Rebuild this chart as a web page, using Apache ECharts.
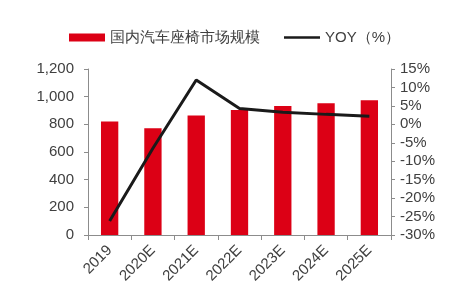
<!DOCTYPE html>
<html><head><meta charset="utf-8">
<script src="https://cdn.jsdelivr.net/npm/echarts@6/dist/echarts.min.js"></script>
<style>html,body{margin:0;padding:0;background:#fff}#c{width:475px;height:301px}</style>
</head><body><div id="c"></div>
<script>
const categories = ['2019','2020E','2021E','2022E','2023E','2024E','2025E'];
const marketSize = [820, 772, 863, 904, 933, 952, 974];
const yoy = [-26.2, -6.5, 12.0, 4.3, 3.3, 2.7, 2.2];
const leftTicks = [0, 200, 1200];
const rightTicks = [-30, 15];

const chart = echarts.init(document.getElementById('c'), null, {renderer:'canvas'});
const axisGray = '#8c8c8c';
const txt = '#404040';
const font = 'Liberation Sans, Arial, sans-serif';
chart.setOption({
  animation:false,
  backgroundColor:'#fff',
  legend:{
    top:25, left:64, itemGap:24, itemWidth:36, itemHeight:8,
    textStyle:{color:txt, fontSize:15, fontFamily:font},
    data:[
      {name:'国内汽车座椅市场规模', icon:'rect'},
      {name:'YOY（%）', icon:'path://M0,0 L40,0 L40,3 L0,3 Z', itemStyle:{color:'#1a1a1a'}}
    ]
  },
  grid:{left:88, right:84, top:69, bottom:66},
  xAxis:{
    type:'category', data:categories, boundaryGap:true,
    axisLine:{lineStyle:{color:axisGray}},
    axisTick:{show:true, length:5, lineStyle:{color:axisGray}},
    axisLabel:{rotate:45, color:txt, fontSize:15, fontFamily:font, margin:13}
  },
  yAxis:[
    {type:'value', min:leftTicks[0], max:leftTicks[2], interval:leftTicks[1],
     axisLine:{show:true, lineStyle:{color:axisGray}},
     axisTick:{show:true, length:4, lineStyle:{color:axisGray}},
     splitLine:{show:false},
     axisLabel:{color:txt, fontSize:15, fontFamily:font, margin:14,
       formatter:v=>v.toLocaleString('en-US')}},
    {type:'value', min:rightTicks[0], max:rightTicks[1], interval:5,
     axisLine:{show:true, lineStyle:{color:axisGray}},
     axisTick:{show:true, length:4, lineStyle:{color:axisGray}},
     splitLine:{show:false},
     axisLabel:{color:txt, fontSize:15, fontFamily:font, margin:9, formatter:'{value}%'}}
  ],
  series:[
    {name:'国内汽车座椅市场规模', type:'bar', data:marketSize, barWidth:'40%',
     itemStyle:{color:'#dc0015'}},
    {name:'YOY（%）', type:'line', yAxisIndex:1, data:yoy, symbol:'none',
     lineStyle:{color:'#1a1a1a', width:3}, itemStyle:{color:'#1a1a1a'}}
  ]
});
</script></body></html>
